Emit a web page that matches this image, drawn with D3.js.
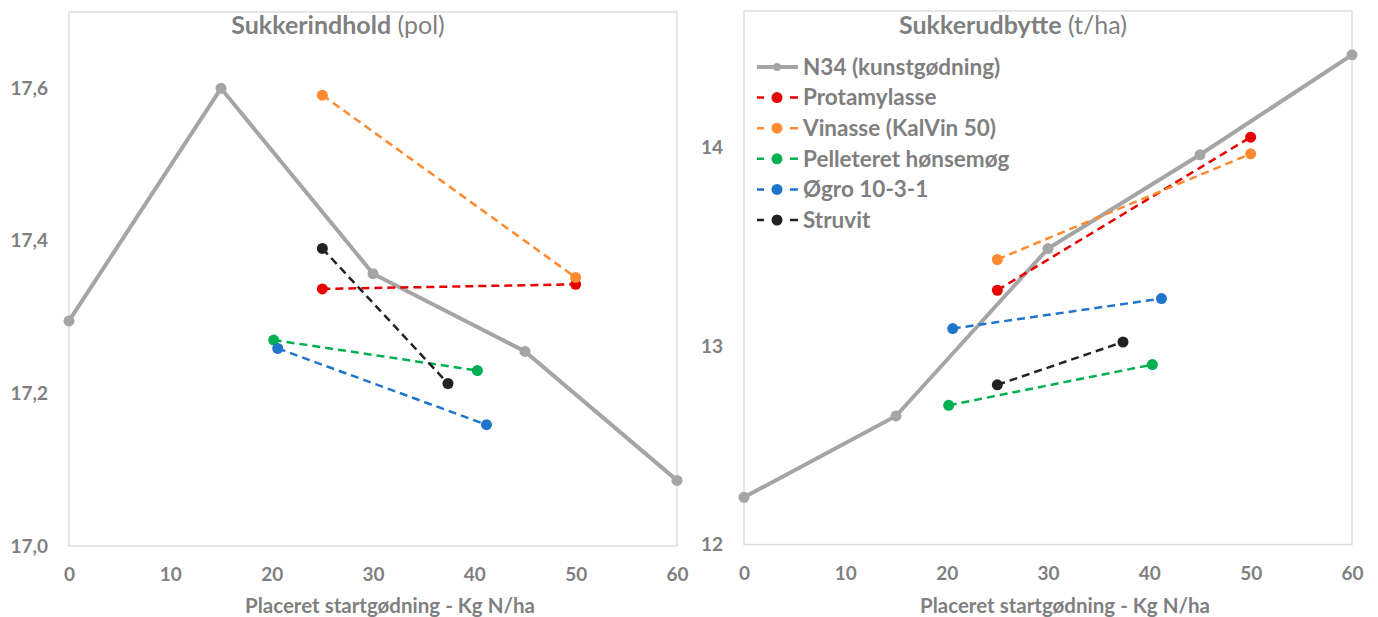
<!DOCTYPE html>
<html>
<head>
<meta charset="utf-8">
<script src="https://cdn.jsdelivr.net/npm/d3@7"></script>
<style>
  body { margin: 0; background: #fff; }
  svg { font-family: Lato, "Open Sans", sans-serif; }
</style>
</head>
<body>
<svg id="chart" width="1378" height="617"></svg>
<script>
// series names and colours
const seriesNames = ["N34 (kunstgødning)", "Protamylasse", "Vinasse (KalVin 50)",
  "Pelleteret hønsemøg", "Øgro 10-3-1", "Struvit"];
const seriesColors = ["#a5a5a5", "#e60000", "#ff8a2f", "#00b050", "#1f74cc", "#222222"];

// x values (kg N/ha) per series
const n34X = [0, 15, 30, 45, 60];
const protX = [25, 50];
const vinX = [25, 50];
const honsX = [20.2, 40.3];
const ogroX = [20.6, 41.2];
const struX = [25, 37.4];

// Sukkerindhold (pol)
const polN34 = [17.295, 17.6, 17.357, 17.255, 17.086];
const polProt = [17.337, 17.343];
const polVin = [17.591, 17.352];
const polHons = [17.270, 17.230];
const polOgro = [17.259, 17.159];
const polStru = [17.390, 17.213];

// Sukkerudbytte (t/ha)
const udbN34 = [12.238, 12.648, 13.492, 13.965, 14.469];
const udbProt = [13.282, 14.054];
const udbVin = [13.437, 13.970];
const udbHons = [12.702, 12.907];
const udbOgro = [13.089, 13.240];
const udbStru = [12.805, 13.021];

const xTicks = [0, 10, 20, 30, 40, 50, 60];
const polTicks = [17.0, 17.2, 17.4, 17.6];
const udbTicks = [12, 13, 14];

const loc = d3.formatLocale({decimal: ",", thousands: ".", grouping: [3], currency: ["", " kr"]});

const svg = d3.select("#chart");
const textGrey = "#7f7f7f";

function zip(xs, ys) { return xs.map((x, i) => ({x: x, y: ys[i]})); }

function drawPanel(opt) {
  const g = svg.append("g");
  const x = d3.scaleLinear().domain([0, 60]).range([opt.left, opt.right]);
  const y = d3.scaleLinear().domain(opt.yDomain).range([opt.bottom, opt.top]);

  g.append("rect")
    .attr("x", opt.left).attr("y", opt.top)
    .attr("width", opt.right - opt.left).attr("height", opt.bottom - opt.top)
    .attr("fill", "none").attr("stroke", "#d9d9d9").attr("stroke-width", 1.3);

  const xAxis = g.append("g")
    .attr("transform", `translate(0,${opt.bottom})`)
    .call(d3.axisBottom(x).tickValues(xTicks).tickSize(0).tickPadding(22));
  xAxis.select(".domain").remove();
  xAxis.selectAll("text")
    .attr("font-family", "Lato, sans-serif").attr("font-size", 19)
    .attr("font-weight", "bold").attr("fill", textGrey);

  const yAxis = g.append("g")
    .attr("transform", `translate(${opt.left},0)`)
    .call(d3.axisLeft(y).tickValues(opt.yTicks).tickSize(0).tickPadding(21)
      .tickFormat(loc.format(opt.yFormat)));
  yAxis.select(".domain").remove();
  yAxis.selectAll("text")
    .attr("font-family", "Lato, sans-serif").attr("font-size", 19)
    .attr("font-weight", "bold").attr("fill", textGrey);

  // x-axis title
  g.append("text")
    .attr("x", (opt.left + opt.right) / 2 + 17).attr("y", 613)
    .attr("text-anchor", "middle")
    .attr("font-size", 20.5).attr("font-weight", "bold").attr("fill", textGrey)
    .text("Placeret startgødning - Kg N/ha");

  // chart title
  const t = g.append("text")
    .attr("x", opt.titleX).attr("y", 34)
    .attr("text-anchor", "middle")
    .attr("font-size", 25).attr("fill", textGrey);
  t.append("tspan").attr("font-weight", "bold").text(opt.title);
  t.append("tspan").text(" " + opt.unit);

  const line = d3.line().x(d => x(d.x)).y(d => y(d.y));

  opt.series.forEach(function (s, i) {
    const pts = zip(s.xs, s.ys);
    g.append("path")
      .datum(pts)
      .attr("d", line)
      .attr("fill", "none")
      .attr("stroke", seriesColors[i])
      .attr("stroke-width", i === 0 ? 4 : 2.5)
      .attr("stroke-dasharray", i === 0 ? null : "8,5");
  });
  opt.series.forEach(function (s, i) {
    g.selectAll(null)
      .data(zip(s.xs, s.ys))
      .enter().append("circle")
      .attr("cx", d => x(d.x)).attr("cy", d => y(d.y))
      .attr("r", 5.5)
      .attr("fill", seriesColors[i]);
  });
  return g;
}

drawPanel({
  left: 69, right: 677, top: 12, bottom: 546,
  yDomain: [17, 17.7], yTicks: polTicks, yFormat: ".1f",
  title: "Sukkerindhold", unit: "(pol)", titleX: 338,
  series: [
    {xs: n34X, ys: polN34}, {xs: protX, ys: polProt}, {xs: vinX, ys: polVin},
    {xs: honsX, ys: polHons}, {xs: ogroX, ys: polOgro}, {xs: struX, ys: polStru}
  ]
});

drawPanel({
  left: 744, right: 1352, top: 11, bottom: 544.5,
  yDomain: [12, 14.69], yTicks: udbTicks, yFormat: "d",
  title: "Sukkerudbytte", unit: "(t/ha)", titleX: 1013,
  series: [
    {xs: n34X, ys: udbN34}, {xs: protX, ys: udbProt}, {xs: vinX, ys: udbVin},
    {xs: honsX, ys: udbHons}, {xs: ogroX, ys: udbOgro}, {xs: struX, ys: udbStru}
  ]
});

// legend inside the right panel
const legend = svg.append("g").attr("transform", "translate(757,67)");
const item = legend.selectAll("g")
  .data(seriesNames)
  .enter().append("g")
  .attr("transform", (d, i) => `translate(0,${i * 30.6})`);

item.append("line")
  .attr("x1", 0).attr("x2", 41).attr("y1", 0).attr("y2", 0)
  .attr("stroke", (d, i) => seriesColors[i])
  .attr("stroke-width", (d, i) => i === 0 ? 4 : 2.5)
  .attr("stroke-dasharray", (d, i) => i === 0 ? null : "7,26,8");
item.append("circle")
  .attr("cx", 20).attr("cy", 0)
  .attr("r", (d, i) => i === 0 ? 4 : 5.5)
  .attr("fill", (d, i) => seriesColors[i]);
item.append("text")
  .attr("x", 46).attr("y", 0).attr("dy", "0.35em")
  .attr("font-size", 22.5).attr("font-weight", "bold").attr("fill", textGrey)
  .text(d => d);
</script>
</body>
</html>
